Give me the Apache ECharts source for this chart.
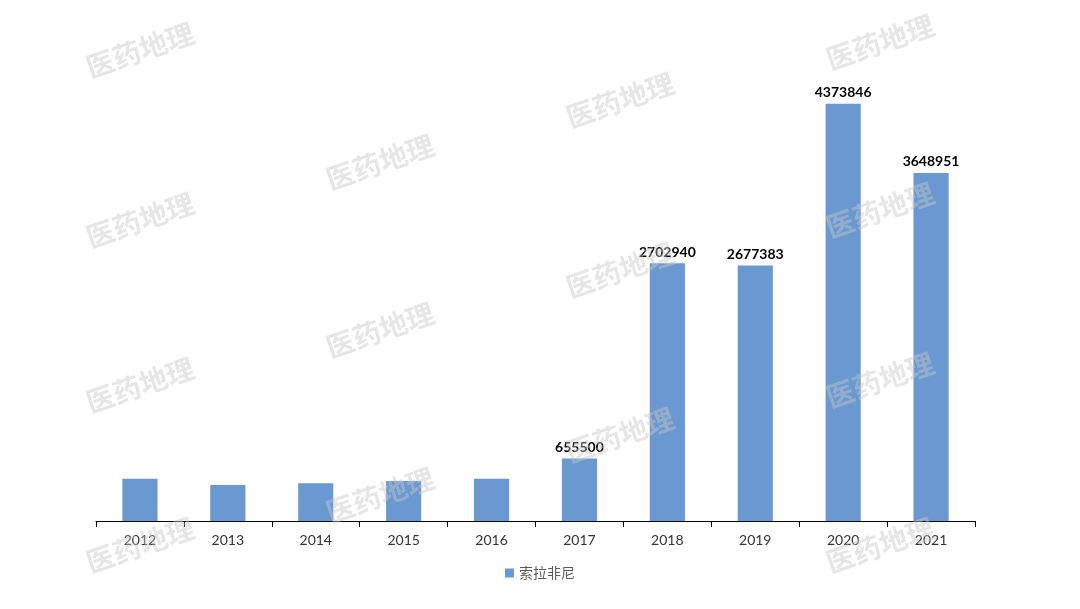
<!DOCTYPE html>
<html><head><meta charset="utf-8">
<script src="https://cdn.jsdelivr.net/npm/echarts@6/dist/echarts.min.js"></script>
<style>html,body{margin:0;padding:0;background:#fff}#c{width:1080px;height:609px}</style>
</head><body><div id="c"></div>
<script>
const categories = ['2012','2013','2014','2015','2016','2017','2018','2019','2020','2021'];
const seriesName = '索拉非尼';
const values = [444000, 378000, 396000, 420000, 444000, 655500, 2702940, 2677383, 4373846, 3648951];
const labeledYears = ['2017','2018','2019','2020','2021'];
const watermarkText = '医药地理';

const marks = [[140,50],[620,100],[880,42],[380,162],[140,220],[880,210],[620,270],[380,330],[140,385],[880,380],[620,435],[380,495],[140,545],[880,545]];
const graphic = marks.map(p => ({
  type: 'text', x: p[0], y: p[1], rotation: 19 * Math.PI / 180, z: 100,
  style: { text: watermarkText, font: 'bold 28px "Noto Sans CJK SC"', fill: 'rgba(200,200,200,0.45)', align: 'center', verticalAlign: 'middle' }
}));

const chart = echarts.init(document.getElementById('c'));
chart.setOption({
  animation: false,
  backgroundColor: '#fff',
  grid: { left: 96, right: 105, top: 44, bottom: 88, containLabel: false },
  xAxis: {
    type: 'category', data: categories,
    axisLine: { lineStyle: { color: '#000', width: 1 } },
    axisTick: { show: true, length: 6, lineStyle: { color: '#000' } },
    axisLabel: { color: '#333', fontSize: 14, fontFamily: 'Lato, "Open Sans", sans-serif', margin: 12 }
  },
  yAxis: { type: 'value', min: 0, max: 5000000, show: false, splitLine: { show: false } },
  legend: {
    bottom: 24, left: 'center', itemWidth: 9, itemHeight: 9, icon: 'rect',
    textStyle: { color: '#595959', fontSize: 14, fontFamily: '"Noto Sans CJK SC"' },
    data: [seriesName]
  },
  series: [{
    name: seriesName, type: 'bar', data: values, barWidth: '40%',
    itemStyle: { color: '#6a98d0' },
    label: {
      show: true, position: 'top', distance: 4,
      color: '#000', fontWeight: 'bold', fontSize: 14, fontFamily: 'Lato, "Open Sans", sans-serif',
      formatter: p => labeledYears.includes(p.name) ? String(p.value) : ''
    }
  }],
  graphic: graphic
});
</script></body></html>
